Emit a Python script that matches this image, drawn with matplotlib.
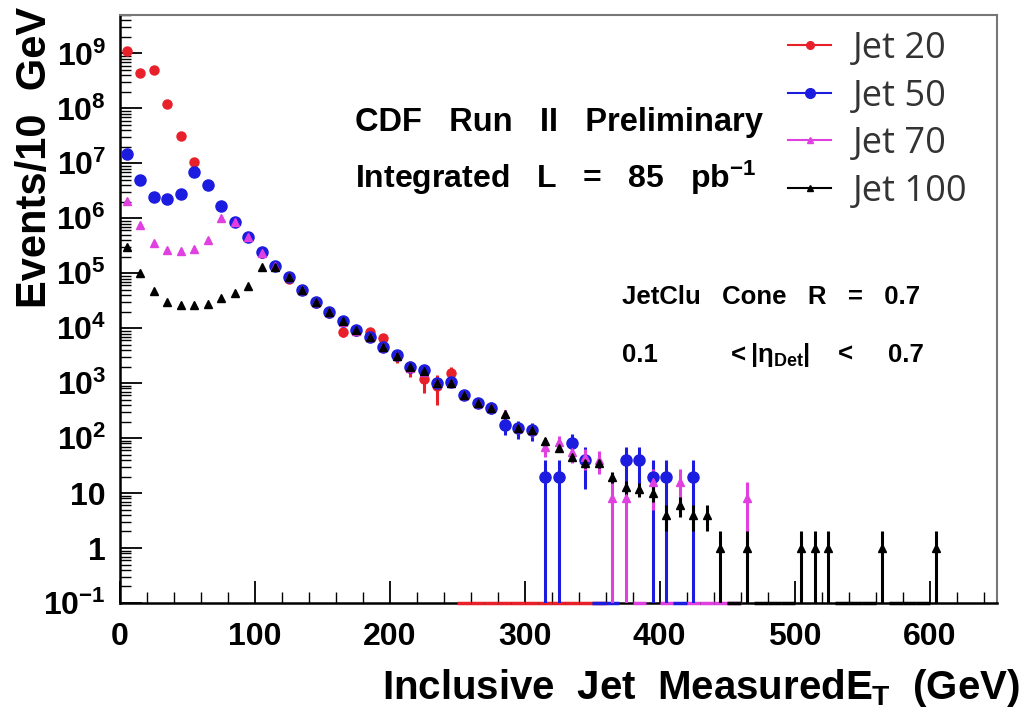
import matplotlib
matplotlib.use('Agg')
import matplotlib.pyplot as plt
from matplotlib.lines import Line2D
from matplotlib.ticker import FixedLocator, MultipleLocator, LogLocator, NullFormatter
import numpy as np

plt.rcParams['font.family'] = ['Liberation Sans', 'DejaVu Sans']
plt.rcParams['font.weight'] = 'bold'
plt.rcParams['mathtext.fontset'] = 'custom'
plt.rcParams['mathtext.rm'] = 'Liberation Sans:bold'
plt.rcParams['mathtext.it'] = 'Liberation Sans:bold'
plt.rcParams['mathtext.bf'] = 'Liberation Sans:bold'

# Jet 20 trigger
jet20_et = [5, 15, 25, 35, 45, 55, 65, 75, 85, 95, 105, 115, 125, 135, 145, 155, 165, 175, 185, 195,
            205, 215, 225, 235, 245, 255, 265, 275, 285, 295, 305, 315, 325, 335, 345, 355]
jet20_val = [1.1e9, 4.4e8, 4.9e8, 1.2e8, 3.2e7, 1.05e7, 4.0e6, 1.7e6, 8.5e5, 4.5e5, 2.3e5, 1.35e5, 8.0e4,
             4.9e4, 2.9e4, 1.9e4, 8.5e3, 9.0e3, 8.5e3, 6.6e3, 3.1e3, 1.9e3, 1.2e3, 9.0e2, 1.5e3,
             0, 0, 0, 0, 0, 0, 0, 0, 0, 0, 0]
jet20_err = [0, 0, 0, 0, 0, 0, 0, 0, 0, 0, 0, 0, 0, 0, 0, 2.0e3, 1.5e3, 1.5e3, 1.5e3, 1.2e3,
             800, 600, 550, 500, 500, 0, 0, 0, 0, 0, 0, 0, 0, 0, 0, 0]

# Jet 50 trigger
jet50_et = [5, 15, 25, 35, 45, 55, 65, 75, 85, 95, 105, 115, 125, 135, 145, 155, 165, 175, 185, 195,
            205, 215, 225, 235, 245, 255, 265, 275, 285, 295, 305, 315, 325, 335, 345, 355, 365, 375,
            385, 395, 405, 415, 425]
jet50_val = [1.45e7, 4.9e6, 2.4e6, 2.2e6, 2.8e6, 6.9e6, 4.0e6, 1.7e6, 8.5e5, 4.5e5, 2.4e5, 1.35e5, 8.5e4,
             4.9e4, 2.95e4, 1.95e4, 1.35e4, 9.1e3, 6.9e3, 4.5e3, 3.2e3, 1.95e3, 1.75e3, 1.0e3, 1.05e3,
             600, 440, 360, 175, 150, 140, 20, 20, 80, 40, 0, 0, 40, 40, 20, 20, 0, 20]
jet50_err = [0, 0, 0, 0, 0, 0, 0, 0, 0, 0, 0, 0, 0, 0, 0, 0, 0, 0, 0, 0,
             0, 150, 180, 140, 140, 110, 90, 85, 60, 55, 52, 20, 20, 40, 28, 0, 0, 28, 28, 20, 20, 0, 20]

# Jet 70 trigger
jet70_et = [5, 15, 25, 35, 45, 55, 65, 75, 85, 95, 105, 115, 125, 135, 145, 155, 165, 175, 185, 195,
            205, 215, 225, 235, 245, 255, 265, 275, 285, 295, 305, 315, 325, 335, 345, 355, 365, 375,
            385, 395, 405, 415, 425, 435, 445, 455, 465]
jet70_val = [2.1e6, 7.4e5, 3.5e5, 2.6e5, 2.5e5, 2.8e5, 4.1e5, 1.0e6, 8.5e5, 4.6e5, 2.3e5, 1.35e5, 8.5e4,
             4.9e4, 2.95e4, 1.95e4, 1.3e4, 9.0e3, 6.8e3, 4.5e3, 3.1e3, 1.9e3, 1.6e3, 1.0e3, 1.0e3,
             620, 440, 350, 280, 155, 140, 70, 85, 56, 45, 40, 8, 8, 0, 16, 0, 16, 0, 0, 0, 0, 8]
jet70_err = [0, 0, 0, 0, 0, 0, 0, 0, 0, 0, 0, 0, 0, 0, 0, 0, 0, 0, 0, 0,
             0, 0, 0, 0, 0, 70, 60, 53, 47, 35, 33, 24, 26, 21, 19, 18, 8, 8, 0, 11, 0, 11, 0, 0, 0, 0, 8]

# Jet 100 trigger
jet100_et = [5, 15, 25, 35, 45, 55, 65, 75, 85, 95, 105, 115, 125, 135, 145, 155, 165, 175, 185, 195,
             205, 215, 225, 235, 245, 255, 265, 275, 285, 295, 305, 315, 325, 335, 345, 355, 365, 375,
             385, 395, 405, 415, 425, 435, 445, 455, 465, 475, 485, 495, 505, 515, 525, 535, 545, 555,
             565, 575, 585, 595, 605]
jet100_val = [3.0e5, 1.0e5, 4.7e4, 3.0e4, 2.6e4, 2.6e4, 2.8e4, 3.5e4, 4.4e4, 5.8e4, 1.3e5, 1.3e5, 8.5e4,
              4.9e4, 2.95e4, 1.95e4, 1.35e4, 9.1e3, 6.9e3, 4.5e3, 3.1e3, 1.95e3, 1.65e3, 1.0e3, 1.0e3,
              600, 440, 350, 280, 150, 140, 90, 66, 45, 35, 35, 20, 13, 12, 10, 4, 6, 4, 4, 1, 0, 1,
              0, 0, 0, 1, 1, 1, 0, 0, 0, 1, 0, 0, 0, 1]
jet100_err = [0, 0, 0, 0, 0, 0, 0, 0, 0, 0, 0, 0, 0, 0, 0, 0, 0, 0, 0, 0,
              0, 0, 0, 0, 0, 24, 21, 19, 17, 12, 12, 9.5, 8, 6.7, 6, 6, 4.5, 3.6, 3.5, 3.2, 2, 2.4, 2, 2,
              1, 0, 1, 0, 0, 0, 1, 1, 1, 0, 0, 0, 1, 0, 0, 0, 1]

series = [
    ('Jet 20', jet20_et, jet20_val, jet20_err, '#e8202a', 'o', 6.5),
    ('Jet 50', jet50_et, jet50_val, jet50_err, '#1c1ce0', 'o', 8),
    ('Jet 70', jet70_et, jet70_val, jet70_err, '#e040e0', '^', 5.5),
    ('Jet 100', jet100_et, jet100_val, jet100_err, 'black', '^', 5.5),
]

y_ticks = [0.1, 1, 10, 1e2, 1e3, 1e4, 1e5, 1e6, 1e7, 1e8, 1e9]
y_ticklabels = ['$10^{-1}$', '1', '10', '$10^{2}$', '$10^{3}$', '$10^{4}$', '$10^{5}$',
                '$10^{6}$', '$10^{7}$', '$10^{8}$', '$10^{9}$']
x_ticks = [0, 100, 200, 300, 400, 500, 600]

ymin, ymax = 0.1, 5e9

fig = plt.figure(figsize=(10.24, 7.14), dpi=100)
ax = fig.add_axes([120 / 1024, 1 - 603 / 714, 877 / 1024, 588 / 714])

handles = []
for label, et, val, err, color, marker, ms in series:
    et = np.array(et, dtype=float)
    val = np.array(val, dtype=float)
    err = np.array(err, dtype=float)
    filled = val > 0
    ax.errorbar(et[filled], val[filled], yerr=err[filled], fmt=marker, color=color,
                ms=ms, mec=color, elinewidth=2.2, capsize=0, zorder=4)
    # empty bins sit on the lower edge of the frame
    empty = ~filled
    if empty.any():
        ax.hlines(np.full(empty.sum(), ymin), et[empty] - 5, et[empty] + 5, color=color,
                  lw=2.5, clip_on=False, zorder=3)
    handles.append(Line2D([], [], color=color, marker=marker, ms=ms - 1, lw=1.5, label=label))

ax.set_yscale('log')
ax.set_ylim(ymin, ymax)
ax.set_xlim(0, 650)

ax.yaxis.set_major_locator(FixedLocator(y_ticks))
ax.set_yticklabels(y_ticklabels)
ax.yaxis.set_minor_locator(LogLocator(base=10, subs=np.arange(2, 10), numticks=30))
ax.yaxis.set_minor_formatter(NullFormatter())
ax.xaxis.set_major_locator(FixedLocator(x_ticks))
ax.xaxis.set_minor_locator(MultipleLocator(20))

ax.tick_params(which='both', direction='in', top=False, right=False)
ax.tick_params(which='major', length=16, width=1.3, labelsize=23)
ax.tick_params(which='minor', length=8, width=1.0)
ax.tick_params(axis='x', which='major', pad=14)
ax.tick_params(axis='y', which='major', pad=10)

for side in ['top', 'right']:
    ax.spines[side].set_color('#777777')
    ax.spines[side].set_linewidth(1.5)
for side in ['left', 'bottom']:
    ax.spines[side].set_linewidth(1.8)

fig.text(0.034, 0.99, 'Events/10  GeV', rotation=90, ha='center', va='top', fontsize=30)
fig.text(0.996, 0.036, 'Inclusive  Jet  Measured$E_T$  (GeV)', ha='right', va='center', fontsize=29)

fig.text(355 / 1024, 1 - 123 / 714, 'CDF   Run   II   Preliminary', ha='left', va='center', fontsize=23.5)
fig.text(355 / 1024, 1 - 178 / 714, 'Integrated   L   =   85   pb$^{-1}$', ha='left', va='center', fontsize=23)
fig.text(622 / 1024, 1 - 297 / 714, 'JetClu   Cone   R   =   0.7', ha='left', va='center', fontsize=18.5)
# pseudorapidity window, placed piece by piece like the original
fig.text(622 / 1024, 1 - 355 / 714, '0.1', ha='left', va='center', fontsize=18.5)
fig.text(726 / 1024, 1 - 355 / 714, r'$<|\eta_{\rm Det}|$', ha='left', va='center', fontsize=18.5)
fig.text(838 / 1024, 1 - 355 / 714, '<', ha='left', va='center', fontsize=18.5)
fig.text(888 / 1024, 1 - 355 / 714, '0.7', ha='left', va='center', fontsize=18.5)

ax.legend(handles=handles, loc='upper left', bbox_to_anchor=(788 / 1024, 1 - 31 / 714),
          bbox_transform=fig.transFigure, frameon=False, handlelength=1.2, handletextpad=0.6,
          labelspacing=0.32, borderpad=0, borderaxespad=0,
          prop={'family': 'Open Sans', 'weight': 'normal', 'size': 26}, labelcolor='#333333')

plt.savefig('out.png', dpi=100)
